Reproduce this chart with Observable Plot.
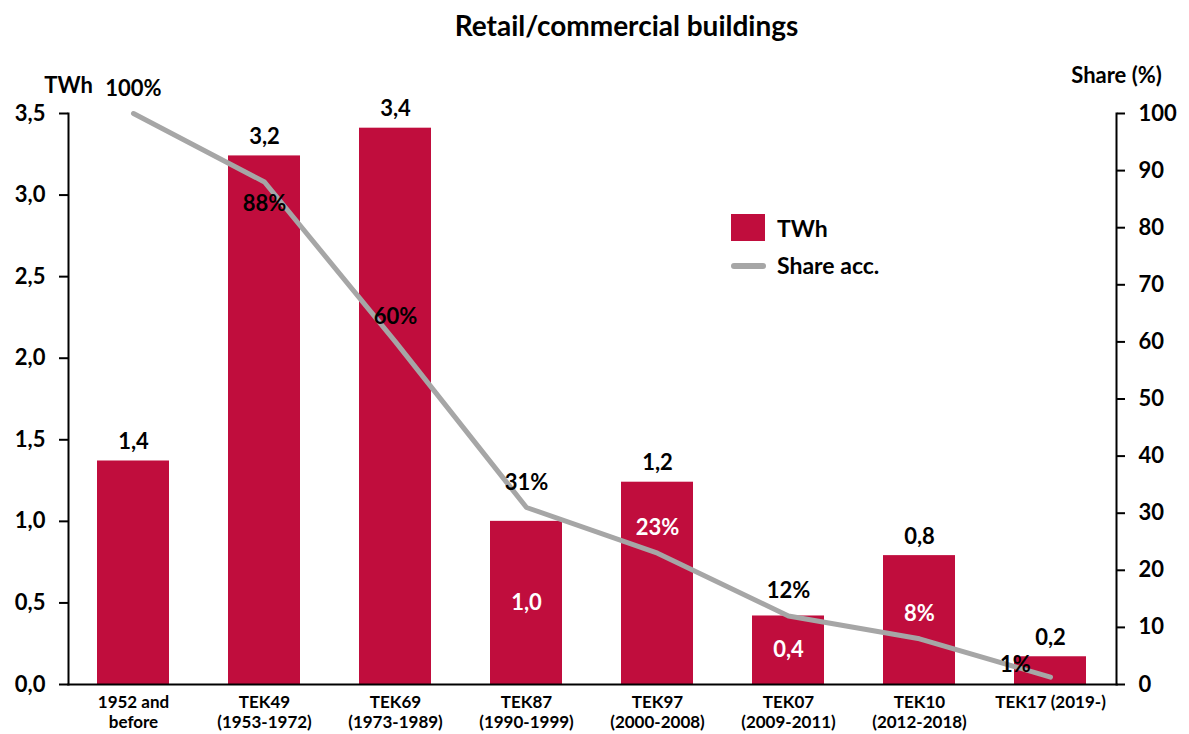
<!DOCTYPE html>
<html><head><meta charset="utf-8">
<script src="https://cdn.jsdelivr.net/npm/d3@7"></script>
<script src="https://cdn.jsdelivr.net/npm/@observablehq/plot@0.6"></script>
<style>
body{margin:0;background:#fff;font-family:Lato,"Open Sans",sans-serif;}
#wrap{position:relative;width:1189px;height:734px;overflow:hidden;}
#title{position:absolute;left:0;top:7px;width:1189px;padding-left:64px;box-sizing:border-box;text-align:center;font-size:28px;font-weight:bold;line-height:36px;color:#000;}
#chart{position:absolute;left:0;top:50px;}
.lg{position:absolute;font-size:23px;font-weight:bold;color:#000;line-height:26px;}
</style></head>
<body>
<div id="wrap">
<div id="title">Retail/commercial buildings</div>
<div id="chart"></div>
<div style="position:absolute;left:731px;top:214px;width:34px;height:27px;background:#C00D3D"></div>
<div class="lg" style="left:777px;top:215px">TWh</div>
<div style="position:absolute;left:731px;top:263px;width:35px;height:6px;border-radius:3px;background:#A6A6A6"></div>
<div class="lg" style="left:777px;top:252px">Share acc.</div>
</div>
<script>
const categories = ["1952 and\nbefore","TEK49\n(1953-1972)","TEK69\n(1973-1989)","TEK87\n(1990-1999)","TEK97\n(2000-2008)","TEK07\n(2009-2011)","TEK10\n(2012-2018)","TEK17 (2019-)"];
const twhValues = [1.37, 3.24, 3.41, 1.00, 1.24, 0.42, 0.79, 0.17];
const twhLabels = ["1,4","3,2","3,4","1,0","1,2","0,4","0,8","0,2"];
const shareAcc = [100, 88, 60, 31, 23, 12, 8, 1.3];
const shareLabels = ["100%","88%","60%","31%","23%","12%","8%","1%"];
const leftTicks = [0, 0.5, 1.0, 1.5, 2.0, 2.5, 3.0, 3.5];
const rightTicks = [0, 10, 20, 30, 40, 50, 60, 70, 80, 90, 100];

const k = 3.5 / 100;
const data = categories.map((c, i) => ({cat: c, twh: twhValues[i], twhLabel: twhLabels[i], share: shareAcc[i], shareLabel: shareLabels[i], i}));
const barInside = new Set([3, 5]);
const shareAbove = new Set([0, 2, 3, 4, 5, 6]);
const shareWhite = new Set([4, 6]);
const red = "#C00D3D", gray = "#A6A6A6";
const font = {fontSize: 22, fontWeight: "bold", fill: "#000"};

const chart = Plot.plot({
  width: 1189, height: 684,
  marginTop: 63, marginBottom: 50, marginLeft: 68, marginRight: 73,
  style: {fontFamily: "Lato, 'Open Sans', sans-serif", color: "#000", background: "#fff"},
  x: {domain: categories, paddingInner: 0.45, paddingOuter: 0.225, label: null},
  y: {domain: [0, 3.5], label: null},
  marks: [
    Plot.barY(data, {x: "cat", y: "twh", fill: red}),
    Plot.line(data, {x: "cat", y: d => d.share * k, stroke: gray, strokeWidth: 5, strokeLinecap: "round", strokeLinejoin: "round"}),
    Plot.frame({anchor: "left", stroke: "#000", strokeWidth: 2}),
    Plot.frame({anchor: "right", stroke: "#000", strokeWidth: 2}),
    Plot.frame({anchor: "bottom", stroke: "#000", strokeWidth: 2}),
    Plot.axisY({anchor: "left", ticks: leftTicks, tickFormat: d => d.toFixed(1).replace(".", ","), tickSize: 9, tickPadding: 14, strokeWidth: 2, label: null, fontSize: 22, fontWeight: "bold"}),
    Plot.axisY({anchor: "right", ticks: rightTicks.map(v => v * k), tickFormat: d => String(Math.round(d / k)), tickSize: 8, tickPadding: 14, strokeWidth: 2, label: null, fontSize: 22, fontWeight: "bold"}),
    Plot.axisX({anchor: "bottom", tickSize: 0, tickPadding: 9, label: null, fontSize: 17, fontWeight: "bold", lineHeight: 1.2}),
    Plot.text(data.filter(d => !barInside.has(d.i)), {x: "cat", y: "twh", text: "twhLabel", dy: -19, ...font}),
    Plot.text(data.filter(d => barInside.has(d.i)), {x: "cat", y: d => d.twh / 2, text: "twhLabel", ...font, fill: "#fff"}),
    Plot.text(data.filter(d => shareAbove.has(d.i)), {x: "cat", y: d => d.share * k, text: "shareLabel", dy: -25, fontSize: 22, fontWeight: "bold", fill: d => shareWhite.has(d.i) ? "#fff" : "#000"}),
    Plot.text(data.filter(d => d.i === 1), {x: "cat", y: d => d.share * k, text: "shareLabel", dy: 22, ...font}),
    Plot.text(data.filter(d => d.i === 7), {x: "cat", y: d => d.share * k, text: "shareLabel", dx: -35, dy: -12, ...font}),
    Plot.text(["TWh"], {frameAnchor: "top-left", textAnchor: "middle", dx: 0, dy: -36, ...font}),
    Plot.text(["Share (%)"], {frameAnchor: "top-right", textAnchor: "middle", dx: 0, dy: -46, ...font})
  ]
});
document.getElementById("chart").appendChild(chart);
</script>
</body></html>
